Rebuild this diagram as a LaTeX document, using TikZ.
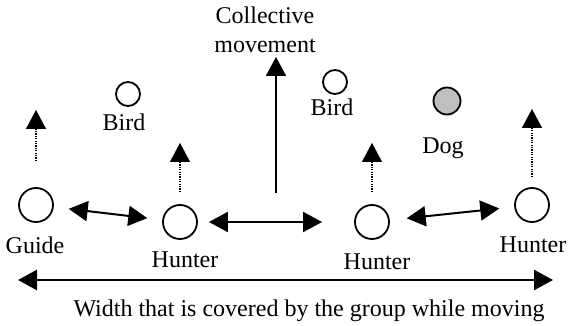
\documentclass[tikz,border=0pt]{standalone}
\usepackage{fontspec}
\setmainfont{Liberation Serif}
\usetikzlibrary{arrows.meta}
\begin{document}
\begin{tikzpicture}[x=0.5pt,y=-0.5pt,
  agent/.style={circle,draw,line width=0.9pt,minimum size=17pt,inner sep=0pt},
  bird/.style={circle,draw,line width=0.9pt,minimum size=12pt,inner sep=0pt},
  dogdot/.style={bird,fill=black!25,minimum size=13.5pt},
  lbl/.style={font=\fontsize{12}{14.5}\selectfont,inner sep=0pt},
  tip/.style={Triangle[width=10pt,length=9.5pt]},
  head/.style={-{Triangle[width=10pt,length=9.5pt]},line width=1pt},
  twoway/.style={{Triangle[width=10pt,length=9.5pt]}-{Triangle[width=10pt,length=9.5pt]},line width=1pt},
  heading/.style={-{Triangle[width=10pt,length=9.5pt]},line width=0.8pt,dash pattern=on 0.6pt off 0.6pt},
]
\useasboundingbox (0,0) rectangle (569,326);

% group members
\node[agent] (guide) at (36,205) {};
\node[agent] (h1) at (180,222) {};
\node[agent] (h2) at (372,222) {};
\node[agent] (h3) at (532,205) {};

% birds and dog
\node[bird] (b1) at (128,94) {};
\node[bird] (b2) at (335,82) {};
\node[dogdot] (dog) at (447,101) {};

% labels
\node[lbl] (guidelbl) at (35,245) {Guide};
\node[lbl] (h1lbl) at (185,260) {Hunter};
\node[lbl] (h2lbl) at (377,262) {Hunter};
\node[lbl] (h3lbl) at (533,245) {Hunter};
\node[lbl] (b1lbl) at (124,122) {Bird};
\node[lbl] (b2lbl) at (332,107) {Bird};
\node[lbl] (doglbl) at (443,148) {Dog};
\node[lbl,align=center] (collective) at (265,30) {Collective\\movement};

% individual headings
\coordinate (guideup) at (36,110);
\coordinate (h1up) at (180,143);
\coordinate (h2up) at (372,143);
\coordinate (h3up) at (532,109);
\draw[heading, shorten <=13pt] (guide) -- (guideup);
\draw[heading, shorten <=6pt] (h1) -- (h1up);
\draw[heading, shorten <=6pt] (h2) -- (h2up);
\draw[heading, shorten <=5pt] (h3) -- (h3up);

% collective movement
\coordinate (cbase) at (276,193);
\coordinate (ctop) at (276,57);
\draw[head] (cbase) -- (ctop);

% spacing between neighbours
\draw[twoway, shorten <=7.5pt, shorten >=7.5pt] (guide) -- (h1);
\draw[twoway, shorten <=5.5pt, shorten >=16pt] (h1) -- (h2);
\draw[twoway, shorten <=8.5pt, shorten >=7.5pt] (h2) -- (h3);

% covered width
\coordinate (wl) at (18,280);
\coordinate (wr) at (553,280);
\draw[twoway, line width=1.2pt] (wl) -- (wr);
\node[lbl] (widthlbl) at (309,311) {Width that is covered by the group while moving};
\end{tikzpicture}
\end{document}
